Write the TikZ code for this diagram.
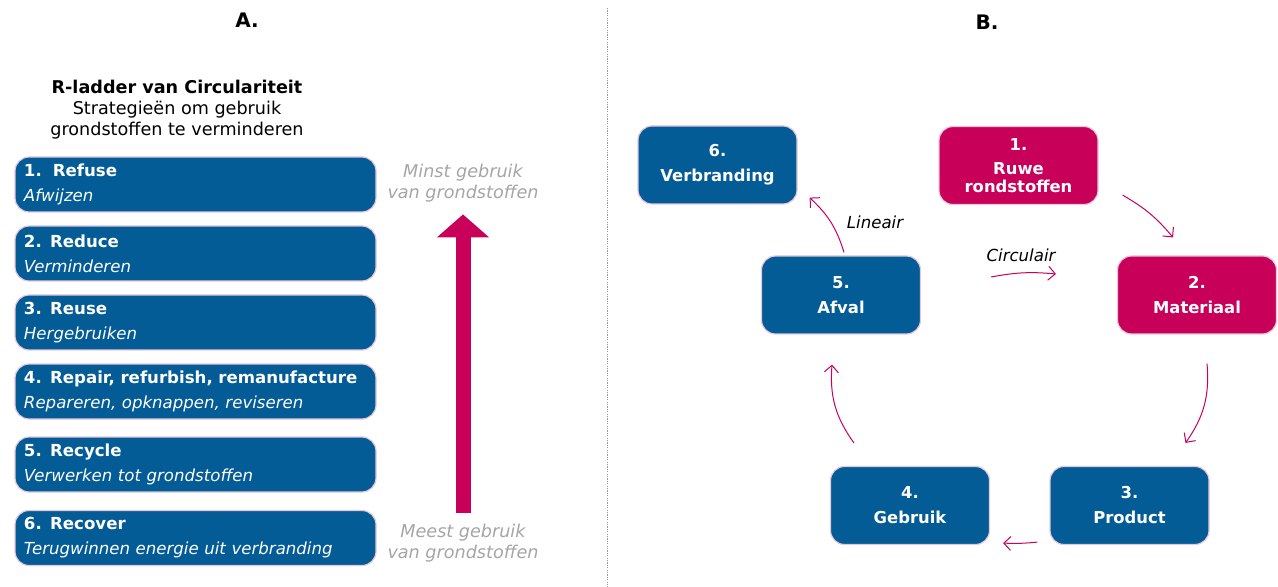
\documentclass[tikz,border=0pt]{standalone}
\usepackage{fontspec}
\setmainfont{DejaVu Sans}
\usetikzlibrary{arrows.meta,positioning}
\definecolor{rblue}{RGB}{4,92,150}
\definecolor{rmagenta}{RGB}{200,0,90}
\definecolor{redge}{RGB}{230,200,220}
\definecolor{rgray}{RGB}{165,165,165}
\begin{document}
\begin{tikzpicture}[%
        x=0.5pt, y=-0.5pt,
        ladder/.style={draw=redge, line width=0.6pt, fill=rblue, rounded corners=7pt,
            text=white, align=left, text width=171.5pt, minimum height=27.5pt,
            inner xsep=4.5pt, inner ysep=0pt, font=\fontsize{8.3}{12.5}\selectfont},
        stage/.style={draw=redge, line width=0.6pt, fill=rblue, rounded corners=7pt,
            text=white, align=center, minimum width=79.5pt, minimum height=39pt,
            inner sep=0pt, font=\bfseries\fontsize{8.2}{12.5}\selectfont},
        flow/.style={draw=rmagenta, line width=0.5pt, -{Straight Barb[length=3.5pt,width=7pt]}},
        note/.style={text=rgray, inner sep=0pt, align=center, font=\itshape\fontsize{8.8}{10.5}\selectfont}
    ]
    \useasboundingbox (0,0) rectangle (1278,587);

    % A. ladder
    \node [font=\bfseries\fontsize{10}{12}\selectfont] (la) at (247,20) {A.};
    \node [align=center, inner sep=0pt, font=\fontsize{8.8}{10.5}\selectfont] (title) at (177,110)
        {\textbf{R-ladder van Circulariteit}\\Strategieën om gebruik\\grondstoffen te verminderen};

    \node [ladder] (r1) at (195.5,184.5) {\textbf{1.\ \ Refuse}\\\textit{Afwijzen}};
    \node [ladder] (r2) at (195.5,253.5) {\textbf{2. Reduce}\\\textit{Verminderen}};
    \node [ladder] (r3) at (195.5,322.5) {\textbf{3. Reuse}\\\textit{Hergebruiken}};
    \node [ladder] (r4) at (195.5,391.5) {\textbf{4. Repair, refurbish, remanufacture}\\\textit{Repareren, opknappen, reviseren}};
    \node [ladder] (r5) at (195.5,464.5) {\textbf{5. Recycle}\\\textit{Verwerken tot grondstoffen}};
    \node [ladder] (r6) at (195.5,538) {\textbf{6. Recover}\\\textit{Terugwinnen energie uit verbranding}};

    \node [note] (minst) at (463,183) {Minst gebruik\\van grondstoffen};
    \node [note] (meest) at (463,543) {Meest gebruik\\van grondstoffen};
    \draw [rmagenta, line width=7.5pt, shorten <=5.5pt, shorten >=6pt,
           -{Triangle[length=11.5pt,width=25.5pt]}] (meest.north) -- (minst.south);

    \coordinate (divtop) at (607,8);
    \coordinate (divbot) at (607,587);
    \draw [gray!80, line width=0.5pt, dash pattern=on 0.6pt off 0.6pt] (divtop) -- (divbot);

    % B. cycle
    \node [font=\bfseries\fontsize{10}{12}\selectfont] (lb) at (987,22) {B.};

    \node [stage] (verb) at (717.5,165) {6.\\Verbranding};
    \node [stage, fill=rmagenta, font=\bfseries\fontsize{8.2}{9}\selectfont] (ruwe) at (1018.5,165.5)
        {1.\\[3pt]Ruwe\\rondstoffen};
    \node [stage] (afval) at (841,295) {5.\\Afval};
    \node [stage, fill=rmagenta] (mat) at (1197,295) {2.\\Materiaal};
    \node [stage] (gebr) at (910,505.5) {4.\\Gebruik};
    \node [stage] (prod) at (1129.5,505.5) {3.\\Product};

    \draw [flow] ([shift={(24,-10)}]ruwe.south east) to [bend left=10] ([shift={(-24,-18)}]mat.north);
    \draw [flow] ([shift={(10,29)}]mat.south) to [bend left=20] ([shift={(56,-23)}]prod.north);
    \draw [flow] ([shift={(-12,-3)}]prod.south west) to [bend left=4] ([shift={(13,-2)}]gebr.south east);
    \draw [flow] ([shift={(24,-23)}]gebr.north west) to [bend left=20] ([shift={(-9,30)}]afval.south);
    \draw [flow] ([shift={(70,-18)}]afval.east) to [bend left=8] ([shift={(-61,-21)}]mat.west);
    \draw [flow] ([shift={(3,-3)}]afval.north) to [bend right=15] ([shift={(12,-7)}]verb.south east);

    \node [font=\itshape\fontsize{8.3}{10}\selectfont] (lin) at (875,222) {Lineair};
    \node [font=\itshape\fontsize{8.3}{10}\selectfont] (circ) at (1021,255) {Circulair};
\end{tikzpicture}
\end{document}
